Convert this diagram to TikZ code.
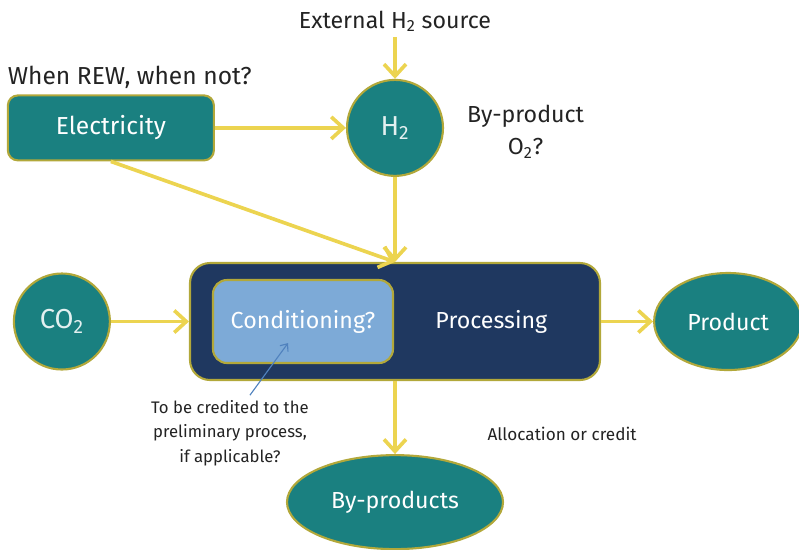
\documentclass[tikz,border=0pt]{standalone}
\usepackage{fontspec}
\setmainfont{Fira Sans}
\usepackage{tikz}
\usetikzlibrary{arrows.meta,positioning,shapes.geometric,calc}
\definecolor{petrol}{RGB}{26,128,128}
\definecolor{deepnavy}{RGB}{31,56,96}
\definecolor{paleblue}{RGB}{125,170,215}
\definecolor{sunyellow}{RGB}{236,212,80}
\definecolor{rimolive}{RGB}{178,168,58}
\definecolor{linkblue}{RGB}{80,130,190}
\definecolor{inkgray}{RGB}{35,35,35}

\begin{document}
\begin{tikzpicture}[
  every node/.style={font=\fontsize{16.5}{19}\selectfont},
  srcbox/.style={draw=rimolive, line width=1.5pt, fill=petrol, text=white, rounded corners=0.25cm, minimum width=5.15cm, minimum height=1.625cm},
  gasnode/.style={circle, draw=rimolive, line width=1.5pt, fill=petrol, text=white!88!petrol, font=\fontsize{19.5}{22}\selectfont, minimum size=2.4cm, inner sep=0pt},
  outnode/.style={ellipse, draw=rimolive, line width=1.5pt, fill=petrol, text=white, inner sep=0pt},
  procbox/.style={draw=rimolive, line width=1.5pt, fill=deepnavy, rounded corners=0.5cm, minimum width=10.25cm, minimum height=2.925cm},
  condbox/.style={draw=rimolive, line width=1.5pt, fill=paleblue, text=white, rounded corners=0.35cm, minimum width=4.5cm, minimum height=2.075cm},
  note/.style={text=inkgray, align=center},
  smallnote/.style={note, font=\fontsize{11.9}{17.5}\selectfont},
  flow/.style={draw=sunyellow, line width=2.6pt, -{Straight Barb[length=3mm, width=5.5mm]}},
  hint/.style={draw=linkblue, line width=0.8pt, -{Straight Barb[length=1.5mm, width=2.5mm]}}
]
\useasboundingbox (0,0) rectangle (19.975,-13.725);

% processing unit
\node[procbox] (proc) at (9.875,-8.0375) {};
\node[condbox, anchor=west] (cond) at ([xshift=0.575cm]proc.west) {Conditioning?};
\node[text=white] (proclbl) at ($(cond.east)!0.47!(proc.east)$) {Processing};

% inputs and outputs
\node[gasnode, left=1.95cm of proc] (co2) {CO\textsubscript{2}};
\node[outnode, minimum width=3.7cm, minimum height=2.425cm, right=1.3cm of proc] (prod) {Product};
\node[outnode, minimum width=5.4cm, minimum height=2.35cm, below=1.825cm of proc] (byp) {By-products};
\node[gasnode, above=2.125cm of proc] (h2) {H\textsubscript{2}};
\node[srcbox, font=\fontsize{17.5}{20}\selectfont, left=3.275cm of h2] (elec) {Electricity};

% remarks
\node[note, font=\fontsize{17.5}{20}\selectfont, above=0.02cm of elec.north west, anchor=south west, xshift=-0.1cm] (rew) {When REW, when not?};
\node[note, font=\fontsize{16.5}{19}\selectfont, above=1.05cm of h2] (ext) {External H\textsubscript{2} source};
\node[note, font=\fontsize{16.5}{23}\selectfont, right=0.45cm of h2, yshift=-0.1cm] (o2) {By-product\\O\textsubscript{2}?};
\node[smallnote] (credit) at ([xshift=1.025cm,yshift=-1.3cm]proc.south west) {To be credited to the\\preliminary process,\\if applicable?};
\node[smallnote, font=\fontsize{12.2}{15}\selectfont] (alloc) at ([xshift=-0.975cm,yshift=-1.325cm]proc.south east) {Allocation or credit};
\coordinate (condtip) at ([xshift=-0.375cm,yshift=-0.54cm]cond.center);

\draw[flow] (ext) -- (h2);
\draw[flow] (elec) -- (h2);
\draw[flow] (elec.south) -- (proc.north);
\draw[flow] (h2) -- (proc.north);
\draw[flow] (co2) -- (proc);
\draw[flow] (proc) -- (prod);
\draw[flow] (proc) -- (byp);
\draw[hint] ([xshift=0.5cm]credit.north) -- (condtip);
\end{tikzpicture}
\end{document}
